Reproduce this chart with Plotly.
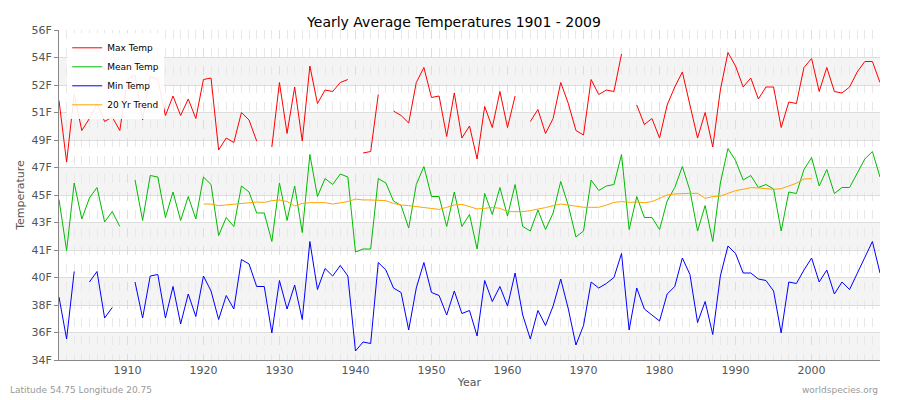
import plotly.graph_objects as go

years = list(range(1901, 2010))
N = None

max_temp = [51.3, 47.2, 51.7, 49.3, 50.1, 51.1, 49.9, 50.2, 49.3, 52.7,
            53.0, 50.0, 52.9, 52.7, 50.3, 51.6, 50.3, 51.4, 50.1, 52.7,
            52.8, 48.0, 48.8, 48.5, 50.5, 50.0, 48.6, N, 48.2, 52.5,
            49.1, 52.2, 48.6, 53.6, 51.1, 52.0, 51.9, 52.5, 52.7, N,
            47.8, 47.9, 51.7, N, 50.6, 50.3, 49.8, 52.5, 53.5, 51.5,
            51.6, 48.9, 51.8, 48.8, 49.6, 47.4, 50.9, 49.5, 51.9, 49.5,
            51.6, N, 49.9, 50.7, 49.1, 50.1, 52.5, 51.1, 49.3, 49.0,
            52.7, 51.7, 52.0, 51.9, 54.4, N, 51.0, 49.7, 50.1, 48.8,
            51.0, 52.2, 53.2, 51.0, 48.8, 50.5, 48.2, 52.0, 54.5, 53.6,
            52.2, 52.8, 51.4, 52.2, 52.2, 49.5, 51.2, 51.1, 53.5, 54.1,
            51.9, 53.5, 51.9, 51.8, 52.2, 53.2, 53.9, 53.9, 52.5]

mean_temp = [44.7, 41.3, 45.8, 43.4, 44.8, 45.5, 43.2, 43.9, 42.9, N,
             46.0, 43.3, 46.3, 46.2, 43.5, 45.2, 43.3, 44.9, 43.4, 46.2,
             45.7, 42.3, 43.5, 42.9, 45.6, 45.2, 43.8, 43.8, 41.9, 45.8,
             43.3, 45.6, 42.5, 47.7, 44.9, 46.1, 45.7, 46.4, 46.2, 41.2,
             41.4, 41.4, 46.1, 45.8, 44.6, 44.3, 42.8, 45.7, 46.9, 44.9,
             44.9, 42.9, 45.2, 42.9, 43.7, 41.4, 45.1, 43.7, 45.5, 43.6,
             45.7, 42.9, 42.6, 44.0, 42.7, 43.8, 45.9, 44.3, 42.2, 42.6,
             46.0, 45.3, 45.6, 45.7, 47.7, 42.7, 44.9, 43.5, 43.5, 42.7,
             44.6, 45.5, 46.9, 45.3, 42.6, 44.3, 41.9, 45.8, 48.1, 47.3,
             46.0, 46.3, 45.5, 45.7, 45.4, 42.6, 45.2, 45.1, 46.7, 47.5,
             45.6, 46.7, 45.1, 45.5, 45.5, 46.5, 47.4, 47.9, 46.2]

min_temp = [38.2, 35.4, 39.9, N, 39.2, 39.9, 36.8, 37.5, N, N,
            39.2, 36.8, 39.6, 39.7, 36.8, 38.9, 36.4, 38.4, 36.9, 39.6,
            38.6, 36.7, 38.3, 37.4, 40.7, 40.4, 38.9, 38.9, 35.8, 39.3,
            37.4, 39.0, 36.7, 41.9, 38.7, 40.1, 39.6, 40.3, 39.6, 34.6,
            35.2, 35.1, 40.5, 40.0, 38.8, 38.5, 36.0, 38.8, 40.5, 38.5,
            38.3, 37.0, 38.6, 37.1, 37.3, 35.6, 39.3, 37.9, 38.9, 37.6,
            39.8, 37.0, 35.4, 37.3, 36.3, 37.6, 39.4, 37.4, 35.0, 36.3,
            39.2, 38.8, 39.1, 39.5, 41.1, 36.0, 38.8, 37.4, 37.0, 36.6,
            38.4, 38.9, 40.8, 39.7, 36.5, 37.9, 35.7, 39.6, 41.6, 41.1,
            39.8, 39.8, 39.4, 39.3, 38.6, 35.8, 39.2, 39.1, 40.0, 40.8,
            39.2, 40.0, 38.4, 39.2, 38.7, 39.8, 40.9, 41.9, 39.8]

trend_years = list(range(1920, 2001))
trend = [44.40, 44.40, 44.29, 44.33, 44.40, 44.44, 44.49, 44.53,
         44.51, 44.62, 44.67, 44.56, 44.27, 44.44, 44.49, 44.49, 44.49, 44.40, 44.49, 44.56,
         44.73, 44.67, 44.67, 44.67, 44.62, 44.44, 44.33, 44.29, 44.22, 44.18,
         44.11, 44.04, 44.18, 44.33, 44.38, 44.22,
         44.07, 44.11, 44.18, 44.11, 43.89, 43.89, 43.89, 43.96, 44.04, 44.16,
         44.29, 44.40, 44.33, 44.27, 44.18, 44.18, 44.18, 44.33, 44.51, 44.56,
         44.51, 44.53, 44.49, 44.56, 44.78, 45.00, 45.07,
         45.11, 45.11, 45.11, 44.78, 44.89, 44.93, 45.11, 45.29, 45.38, 45.49,
         45.47, 45.42, 45.38, 45.42, 45.60, 45.78, 46.07, 46.09]

tick_vals = [34 + k * 22 / 12 for k in range(13)]
tick_text = ["34F", "36F", "38F", "40F", "41F", "43F", "45F", "47F", "49F",
             "51F", "52F", "54F", "56F"]

fig = go.Figure()
fig.add_trace(go.Scatter(x=years, y=max_temp, name="Max Temp", mode="lines",
                         line=dict(color="#ff0000", width=1)))
fig.add_trace(go.Scatter(x=years, y=mean_temp, name="Mean Temp", mode="lines",
                         line=dict(color="#00bb00", width=1)))
fig.add_trace(go.Scatter(x=years, y=min_temp, name="Min Temp", mode="lines",
                         line=dict(color="#0000ff", width=1)))
fig.add_trace(go.Scatter(x=trend_years, y=trend, name="20 Yr Trend", mode="lines",
                         line=dict(color="#ffa500", width=1)))

# alternating grey bands
for k in range(0, 12, 2):
    fig.add_shape(type="rect", xref="paper", x0=0, x1=1, yref="y",
                  y0=tick_vals[k], y1=tick_vals[k + 1],
                  fillcolor="#f4f4f4", line_width=0, layer="below")

# page body adds an 8px offset, so the figure is 892x392
fig.update_layout(
    width=892, height=392,
    margin=dict(l=51, r=20, t=22, b=40, autoexpand=False),
    paper_bgcolor="white", plot_bgcolor="white",
    font=dict(family="DejaVu Sans", size=11, color="#444"),
    title=dict(text="Yearly Average Temperatures 1901 - 2009", x=0.5, y=0.965,
               xanchor="center", yanchor="middle", font=dict(size=14, color="#000")),
    legend=dict(x=0.01, y=0.99, xanchor="left", yanchor="top",
                bgcolor="rgba(255,255,255,0.9)", font=dict(size=9, color="#000"),
                itemwidth=30, tracegroupgap=0),
    xaxis=dict(range=[1901, 2009], tickvals=list(range(1910, 2010, 10)),
               title=dict(text="Year", standoff=2, font=dict(size=11, color="#555")),
               automargin=False,
               showgrid=True, gridcolor="#dddddd", griddash="dash",
               minor=dict(dtick=1, tick0=1901, showgrid=True, gridcolor="#e8e8e8", griddash="dash"),
               showline=True, linecolor="#888", zeroline=False,
               tickfont=dict(size=11, color="#555")),
    yaxis=dict(range=[34, 56], tickvals=tick_vals, ticktext=tick_text,
               title=dict(text="Temperature", standoff=4, font=dict(size=11, color="#555")),
               automargin=False,
               showgrid=True, gridcolor="#dddddd", showline=True, linecolor="#888",
               ticks="outside", ticklen=4, tickcolor="#888", zeroline=False,
               tickfont=dict(size=11, color="#555")),
)
fig.add_annotation(text="Latitude 54.75 Longitude 20.75", xref="paper", yref="paper",
                   x=-0.062, y=-0.09, xanchor="left", yanchor="middle", showarrow=False,
                   font=dict(size=9, color="#999"))
fig.add_annotation(text="worldspecies.org", xref="paper", yref="paper",
                   x=1.0, y=-0.09, xanchor="right", yanchor="middle", showarrow=False,
                   font=dict(size=9, color="#999"))

fig.write_html("out.html")
